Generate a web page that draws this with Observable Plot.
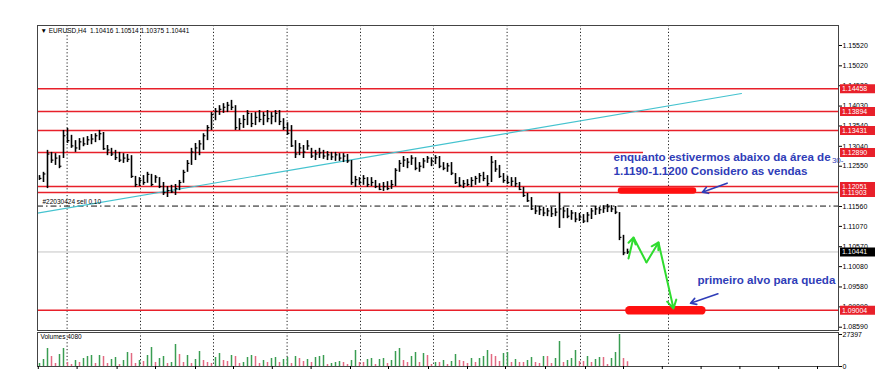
<!DOCTYPE html>
<html><head><meta charset="utf-8">
<script src="https://cdn.jsdelivr.net/npm/d3@7"></script>
<script src="https://cdn.jsdelivr.net/npm/@observablehq/plot@0.6"></script>
<style>
body{margin:0;background:#fff;}
#wrap{position:relative;width:885px;height:380px;overflow:hidden;font-family:"Liberation Sans",Arial,sans-serif;}
#main,#vol{position:absolute;left:0;}
#main{top:0}
#vol{top:330px}
svg{overflow:visible}
</style></head><body><div id="wrap"><div id="main"></div><div id="vol"></div></div>
<script>
// EURUSD H4 bars, values in pips above 1.0000 (1232 -> 1.1232)
const high = [
1232,1240,1294,1289,1286,1281,1343,1348,1331,1318,
1323,1325,1328,1333,1335,1343,1338,1306,1299,1294,
1289,1286,1284,1281,1230,1227,1232,1240,1235,1232,
1227,1215,1205,1208,1210,1220,1245,1269,1299,1311,
1318,1335,1355,1387,1397,1404,1409,1412,1417,1404,
1372,1380,1392,1385,1387,1392,1387,1392,1387,1392,
1392,1372,1362,1355,1318,1311,1306,1318,1299,1294,
1299,1294,1291,1289,1289,1286,1286,1284,1269,1230,
1227,1232,1227,1227,1220,1212,1215,1217,1220,1249,
1269,1279,1274,1281,1276,1264,1274,1279,1276,1281,
1279,1264,1262,1264,1237,1227,1220,1222,1227,1230,
1237,1240,1232,1279,1269,1257,1237,1230,1227,1227,
1215,1203,1188,1178,1158,1156,1154,1151,1154,1151,
1188,1154,1151,1146,1141,1139,1136,1141,1151,1156,
1154,1158,1161,1158,1156,1141,1085,1051];
const low = [
1220,1215,1200,1262,1257,1249,1274,1311,1299,1289,
1294,1303,1306,1308,1313,1318,1294,1281,1279,1269,
1264,1262,1264,1225,1203,1205,1208,1213,1205,1213,
1200,1183,1178,1188,1183,1195,1213,1240,1257,1269,
1281,1294,1318,1343,1367,1380,1385,1387,1392,1343,
1343,1348,1355,1350,1355,1362,1355,1362,1357,1362,
1355,1343,1331,1301,1274,1281,1274,1294,1274,1269,
1274,1272,1269,1269,1267,1267,1264,1262,1208,1203,
1208,1208,1203,1205,1200,1195,1193,1195,1198,1205,
1240,1252,1249,1257,1244,1240,1249,1262,1254,1259,
1249,1244,1240,1232,1210,1203,1200,1205,1203,1208,
1213,1217,1205,1215,1240,1225,1213,1210,1205,1203,
1195,1178,1166,1146,1136,1134,1131,1131,1129,1131,
1102,1126,1126,1122,1116,1119,1114,1116,1124,1134,
1136,1139,1141,1141,1136,1072,1035,1038];
const close = [
1225,1236,1285,1270,1275,1255,1330,1318,1305,1300,
1315,1310,1320,1322,1330,1335,1298,1295,1285,1276,
1270,1275,1272,1230,1210,1220,1215,1235,1210,1228,
1205,1190,1195,1192,1200,1215,1240,1262,1290,1300,
1310,1330,1350,1382,1390,1395,1400,1405,1400,1350,
1360,1370,1385,1360,1375,1370,1380,1372,1378,1385,
1365,1350,1336,1305,1285,1300,1290,1305,1280,1285,
1288,1280,1283,1278,1283,1275,1280,1268,1215,1222,
1215,1225,1210,1215,1205,1198,1205,1200,1210,1245,
1262,1270,1265,1275,1250,1255,1268,1275,1268,1276,
1255,1250,1256,1238,1215,1208,1212,1210,1220,1225,
1232,1225,1212,1265,1248,1230,1220,1215,1218,1212,
1198,1183,1170,1150,1145,1148,1140,1145,1138,1142,
1150,1145,1132,1140,1125,1130,1120,1135,1145,1150,
1148,1152,1155,1150,1142,1080,1042,1044];
const volume = [
2570,5990,15410,8560,2570,10270,15410,3420,1710,5140,
3420,6850,8560,9420,2570,9420,8560,2570,5990,7700,
1710,5140,11980,11130,2570,5140,4280,9420,16260,3420,
6850,8560,2570,3420,18830,10270,3420,9420,2570,5990,
12840,5140,3420,2570,7700,11130,5140,4280,9420,8560,
2570,3420,7700,9420,8560,2570,5140,3420,6850,7700,
3420,5990,7700,2570,8560,6850,4280,5990,3420,7700,
8560,9420,1710,2570,3420,4280,3420,1710,5140,13700,
3420,3420,5990,6850,1710,5990,6850,2570,5140,12840,
15410,5140,3420,8560,11980,3420,11130,9420,1710,3420,
3420,5140,1710,4280,10270,5140,4280,2570,6850,3420,
6850,8560,13700,10270,8560,4280,11130,11980,3420,5990,
3420,3420,5140,7700,3420,2570,8560,8560,2570,6850,
21400,3420,5140,6850,13700,4280,4280,8560,3420,5990,
7700,7700,1710,6850,11980,27397,6850,4080];

const headerText = "\u25BC EURUSD,H4  1.10416 1.10514 1.10375 1.10441";
const yTicks = [1.15520,1.15020,1.14530,1.14030,1.13540,1.13040,1.12550,1.11560,1.11070,1.10570,1.10080,1.09580,1.09090,1.08590];
const volTicks = [0, 27397];
const redLevels = [1.14458,1.13894,1.13431,1.12890,1.12051,1.11903,1.09004];
const redLineEnd = [199.75,199.75,199.75,151,199.75,199.75,199.75];
const currentPrice = 1.10441;
const orderPrice = 1.1157;
const orderLabel = "#22030424 sell 0.10";
const gridIdx = [6.9,25.25,43.5,61.9,80.25,98.5,116.9,135.25,157.25];
const timeTicks = [-0.3,9.4,19.4,29,39,48.5,58.2,67.9,77.75,87.25,97.25,107,116.5,126.5,136.5,146,155.7,165.4,175.1,184.8,194.5];
const trendI = [-0.5, 175.5];
const trendP = [1.11396, 1.14339];
const zoneI1 = [145.5, 147.6];
const zoneI2 = [163.5, 165.6];
const zoneP = [1.11953, 1.09004];
const greenI = [147.25,148.5,151.75,154.75,158.5];
const greenP = [1.10280,1.10797,1.10182,1.10674,1.09050];
const blueI1 = [171.9,169.6], blueP1 = [1.12133,1.09412];
const blueI2 = [165.7,162.75], blueP2 = [1.11911,1.09181];
const noteText = ["enquanto estivermos abaixo da área de","1.1190-1.1200 Considero as vendas","primeiro alvo para queda"];
const noteI = [143.5,143.5,164.5];
const noteP = [1.12765,1.1242,1.09739];
const strayText = "30-", strayI = 198.1, strayP = 1.1270;

// build tables
const bars = high.map((h,i)=>({i, high:1+h/1e4, low:1+low[i]/1e4, close:1+close[i]/1e4}));
const vols = volume.map((v,i)=>({i, v, up: i===0 ? true : v > volume[i-1]}));
const redLines = redLevels.map((p,k)=>({p, end: redLineEnd[k]}));
const trend = trendI.map((i,k)=>({i, p: trendP[k]}));
const zones = zoneP.map((p,k)=>({p, a: zoneI1[k], b: zoneI2[k]}));
const segs = greenI.slice(1).map((x,k)=>({x1:greenI[k], y1:greenP[k], x2:greenI[k+1], y2:greenP[k+1], head: k!==1}));
const blues = blueI1.map((x,k)=>({x1:x, y1:blueP1[k], x2:blueI2[k], y2:blueP2[k]}));
const notes = noteText.map((t,k)=>({t, i:noteI[k], p:noteP[k]}));

const FONT = "'Liberation Sans', Arial, sans-serif";
const xDomain = [-0.5, 199.75];
const RED = "#e8202a", BLUE = "#2f3db8", GREEN = "#2fdc2f";

const main = Plot.plot({
  width: 885, height: 331, marginTop: 25, marginBottom: 1, marginLeft: 37, marginRight: 47,
  x: {domain: xDomain, axis: null},
  y: {domain: [1.085089, 1.160120]},
  style: {fontFamily: FONT, background: "transparent", color: "#000"},
  marks: [
    Plot.ruleX(gridIdx, {stroke: "#222", strokeDasharray: "1.2,2.2", strokeWidth: 1}),
    Plot.ruleY([currentPrice], {stroke: "#c4c4c4", strokeWidth: 1}),
    Plot.ruleY([orderPrice], {stroke: "#111", strokeDasharray: "6,3,1.5,3", strokeWidth: 1}),
    Plot.ruleY(redLines, {y: "p", x1: -0.5, x2: "end", stroke: RED, strokeWidth: 1.5}),
    Plot.line(trend, {x: "i", y: "p", stroke: "#45c3cf", strokeWidth: 1.2, clip: true}),
    Plot.ruleX(bars, {x: "i", y1: "low", y2: "high", stroke: "#000", strokeWidth: 1.6}),
    Plot.ruleY(bars, {y: "close", x1: "i", x2: d => d.i + 0.6, stroke: "#000", strokeWidth: 1.2}),
    Plot.ruleY(zones.slice(0,1), {y: "p", x1: "a", x2: "b", stroke: "#ff1010", strokeWidth: 6.5, strokeLinecap: "round"}),
    Plot.ruleY(zones.slice(1), {y: "p", x1: "a", x2: "b", stroke: "#ff1010", strokeWidth: 8.5, strokeLinecap: "round"}),
    Plot.link(segs.filter(s => !s.head), {x1: "x1", y1: "y1", x2: "x2", y2: "y2", stroke: GREEN, strokeWidth: 2}),
    Plot.arrow(segs.filter(s => s.head), {x1: "x1", y1: "y1", x2: "x2", y2: "y2", stroke: GREEN, strokeWidth: 2, headLength: 7}),
    Plot.arrow(blues, {x1: "x1", y1: "y1", x2: "x2", y2: "y2", stroke: BLUE, strokeWidth: 1.6, headLength: 6}),
    Plot.text(notes, {x: "i", y: "p", text: "t", textAnchor: "start", fill: BLUE, fontSize: 11.6, fontWeight: "bold"}),
    Plot.text([strayText], {x: strayI, y: strayP, textAnchor: "start", fill: BLUE, fontSize: 8}),
    Plot.text([orderLabel], {x: -0.5, y: orderPrice, dx: 5, dy: -4, textAnchor: "start", fontSize: 6.5, fill: "#000"}),
    Plot.text([headerText], {frameAnchor: "top-left", dx: 3, dy: 3, lineAnchor: "top", textAnchor: "start", fontSize: 6.5, fill: "#000"}),
    Plot.frame({stroke: "#444"}),
    Plot.axisY(yTicks, {anchor: "right", tickFormat: d => d.toFixed(5), tickSize: 3, tickPadding: 1, fontSize: 7, label: null}),
    Plot.ruleY(redLevels, {x1: 200.25, x2: 209, stroke: RED, strokeWidth: 9}),
    Plot.text(redLevels, {x: 200.6, y: d => d, text: d => d.toFixed(5), fill: "#fff", fontSize: 7, textAnchor: "start"}),
    Plot.ruleY([currentPrice], {x1: 200.25, x2: 209, stroke: "#000", strokeWidth: 9}),
    Plot.text([currentPrice], {x: 200.6, y: d => d, text: d => d.toFixed(5), fill: "#fff", fontSize: 7, textAnchor: "start"})
  ]
});
document.getElementById("main").appendChild(main);

const volPlot = Plot.plot({
  width: 885, height: 50, marginTop: 2, marginBottom: 14, marginLeft: 37, marginRight: 47,
  x: {domain: xDomain},
  y: {domain: [0, 29100]},
  style: {fontFamily: FONT, background: "transparent", color: "#000"},
  marks: [
    Plot.ruleX(gridIdx, {stroke: "#222", strokeDasharray: "1.2,2.2", strokeWidth: 1}),
    Plot.ruleX(vols.filter(d => d.up), {x: "i", y1: 0, y2: "v", stroke: "#3a9d52", strokeWidth: 1.5}),
    Plot.ruleX(vols.filter(d => !d.up), {x: "i", y1: 0, y2: "v", stroke: "#e26a82", strokeWidth: 1.5}),
    Plot.frame({stroke: "#444"}),
    Plot.axisY(volTicks, {anchor: "right", tickSize: 3, tickPadding: 1, fontSize: 7, label: null, tickFormat: d => String(d)}),
    Plot.axisX(timeTicks, {tickSize: 3, tickFormat: () => "", label: null}),
    Plot.text([`Volumes ${volume[volume.length-1]}`], {frameAnchor: "top-left", dx: 3, dy: 2, lineAnchor: "top", textAnchor: "start", fontSize: 6.5, fill: "#000"})
  ]
});
document.getElementById("vol").appendChild(volPlot);
</script>
</body></html>
